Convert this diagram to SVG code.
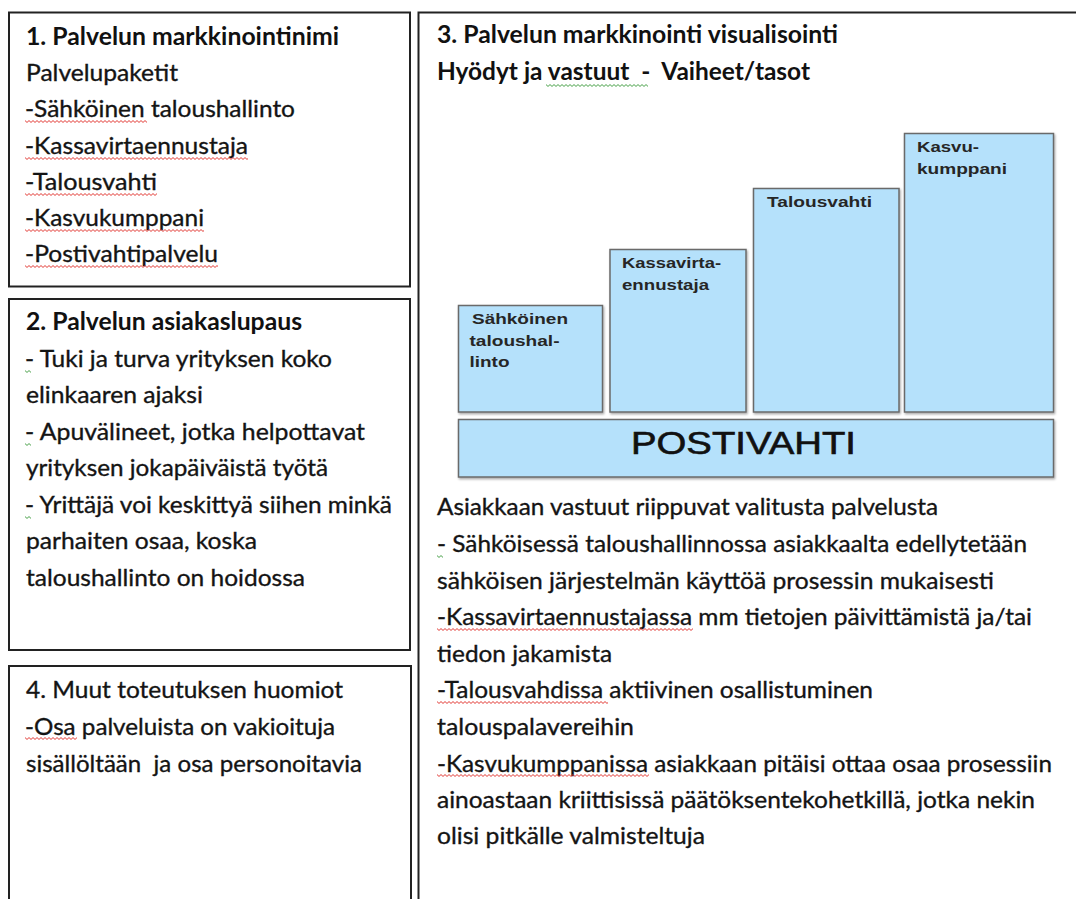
<svg xmlns="http://www.w3.org/2000/svg" width="1076" height="899" viewBox="0 0 1076 899">
  <defs>
    <style>
      .panel { fill: #ffffff; stroke: #222222; stroke-width: 2; }
      .t { font-family: Lato, "Open Sans", "Liberation Sans", sans-serif; font-size: 24px; fill: #141414; stroke: #141414; stroke-width: 0.35; }
      .tb { font-family: Lato, "Open Sans", "Liberation Sans", sans-serif; font-size: 24px; font-weight: 700; fill: #111111; }
      .pre { white-space: pre; }
      .bar { fill: #b5e1fb; stroke: #6a6a6a; stroke-width: 1.5; filter: url(#shade); }
      .lbl { font-family: "Liberation Sans", Arial, sans-serif; font-size: 15.5px; font-weight: 700; fill: #262626; }
      .big { font-family: "Liberation Sans", Arial, sans-serif; font-size: 31px; fill: #111111; stroke: #111111; stroke-width: 0.6; }
    </style>
    <filter id="shade" x="-5%" y="-5%" width="112%" height="115%">
      <feDropShadow dx="1" dy="1.5" stdDeviation="0.8" flood-color="#000" flood-opacity="0.35"/>
    </filter>
    <!-- spell-check squiggles -->
    <pattern id="wr" patternUnits="userSpaceOnUse" width="4" height="3">
      <path d="M-1,1.5 L0,0.5 L2,2.5 L4,0.5 L5,1.5" fill="none" stroke="#e0302a" stroke-width="1"/>
    </pattern>
    <pattern id="wg" patternUnits="userSpaceOnUse" width="4" height="3">
      <path d="M-1,1.5 L0,0.5 L2,2.5 L4,0.5 L5,1.5" fill="none" stroke="#3c9a3c" stroke-width="1"/>
    </pattern>
  </defs>

  <rect width="1076" height="899" fill="#ffffff"/>

  <!-- Panel 1: service name -->
  <g id="panel-name">
    <rect class="panel" x="9" y="12.5" width="401" height="274"/>
    <text class="tb" x="26" y="45" textLength="313" lengthAdjust="spacingAndGlyphs">1. Palvelun markkinointinimi</text>
    <text class="t" x="26" y="81" textLength="152" lengthAdjust="spacingAndGlyphs">Palvelupaketit</text>
    <text class="t" x="25" y="117" textLength="270" lengthAdjust="spacingAndGlyphs">-Sähköinen taloushallinto</text>
    <text class="t" x="25" y="154" textLength="223" lengthAdjust="spacingAndGlyphs">-Kassavirtaennustaja</text>
    <text class="t" x="25" y="190" textLength="132" lengthAdjust="spacingAndGlyphs">-Talousvahti</text>
    <text class="t" x="25" y="226" textLength="179" lengthAdjust="spacingAndGlyphs">-Kasvukumppani</text>
    <text class="t" x="25" y="262" textLength="193" lengthAdjust="spacingAndGlyphs">-Postivahtipalvelu</text>
    <rect transform="translate(25,120)" width="122" height="3" fill="url(#wr)"/>
    <rect transform="translate(25,157)" width="223" height="3" fill="url(#wr)"/>
    <rect transform="translate(25,193)" width="132" height="3" fill="url(#wr)"/>
    <rect transform="translate(25,229)" width="179" height="3" fill="url(#wr)"/>
    <rect transform="translate(25,265)" width="193" height="3" fill="url(#wr)"/>
  </g>

  <!-- Panel 2: customer promise -->
  <g id="panel-promise">
    <rect class="panel" x="9" y="299" width="401" height="351"/>
    <text class="tb" x="26" y="330" textLength="276" lengthAdjust="spacingAndGlyphs">2. Palvelun asiakaslupaus</text>
    <text class="t" x="25" y="366.5" textLength="307" lengthAdjust="spacingAndGlyphs">- Tuki ja turva yrityksen koko</text>
    <text class="t" x="26" y="403" textLength="177" lengthAdjust="spacingAndGlyphs">elinkaaren ajaksi</text>
    <text class="t" x="25" y="439.5" textLength="340" lengthAdjust="spacingAndGlyphs">- Apuvälineet, jotka helpottavat</text>
    <text class="t" x="26" y="476" textLength="302" lengthAdjust="spacingAndGlyphs">yrityksen jokapäiväistä työtä</text>
    <text class="t" x="25" y="512.5" textLength="367" lengthAdjust="spacingAndGlyphs">- Yrittäjä voi keskittyä siihen minkä</text>
    <text class="t" x="26" y="549" textLength="231" lengthAdjust="spacingAndGlyphs">parhaiten osaa, koska</text>
    <text class="t" x="26" y="585.5" textLength="279" lengthAdjust="spacingAndGlyphs">taloushallinto on hoidossa</text>
    <rect transform="translate(25,370)" width="6" height="3" fill="url(#wg)"/>
    <rect transform="translate(25,443)" width="6" height="3" fill="url(#wg)"/>
    <rect transform="translate(25,516)" width="6" height="3" fill="url(#wg)"/>
  </g>

  <!-- Panel 4: other notes -->
  <g id="panel-notes">
    <rect class="panel" x="9" y="666" width="402" height="245"/>
    <text class="t" x="26" y="698" textLength="317" lengthAdjust="spacingAndGlyphs">4. Muut toteutuksen huomiot</text>
    <text class="t" x="25" y="735" textLength="310" lengthAdjust="spacingAndGlyphs">-Osa palveluista on vakioituja</text>
    <text class="t pre" x="26" y="772" textLength="336" lengthAdjust="spacingAndGlyphs">sisällöltään  ja osa personoitavia</text>
    <rect transform="translate(25,737)" width="52" height="3" fill="url(#wr)"/>
  </g>

  <!-- Panel 3: visualisation -->
  <g id="panel-visual">
    <rect class="panel" x="418.5" y="12.5" width="670" height="900"/>
    <text class="tb" x="437" y="43" textLength="401" lengthAdjust="spacingAndGlyphs">3. Palvelun markkinointi visualisointi</text>
    <text class="tb pre" x="437" y="80" textLength="373" lengthAdjust="spacingAndGlyphs">Hyödyt ja vastuut  -  Vaiheet/tasot</text>
    <rect transform="translate(546,84)" width="102" height="3" fill="url(#wg)"/>
  </g>

  <!-- Service levels -->
  <g id="level-sahkoinen">
    <rect class="bar" x="458.5" y="305.5" width="144" height="106.5"/>
    <text class="lbl" x="472" y="324" textLength="96" lengthAdjust="spacingAndGlyphs">Sähköinen</text>
    <text class="lbl" x="469.5" y="346" textLength="90" lengthAdjust="spacingAndGlyphs">taloushal-</text>
    <text class="lbl" x="469.5" y="367" textLength="40" lengthAdjust="spacingAndGlyphs">linto</text>
  </g>
  <g id="level-kassavirta">
    <rect class="bar" x="610" y="249.5" width="136" height="162.5"/>
    <text class="lbl" x="622" y="268" textLength="99" lengthAdjust="spacingAndGlyphs">Kassavirta-</text>
    <text class="lbl" x="622" y="290" textLength="87" lengthAdjust="spacingAndGlyphs">ennustaja</text>
  </g>
  <g id="level-talousvahti">
    <rect class="bar" x="753.5" y="188.5" width="145.5" height="223.5"/>
    <text class="lbl" x="767" y="207" textLength="105" lengthAdjust="spacingAndGlyphs">Talousvahti</text>
  </g>
  <g id="level-kasvukumppani">
    <rect class="bar" x="904.5" y="133.5" width="149" height="278.5"/>
    <text class="lbl" x="917" y="152" textLength="62" lengthAdjust="spacingAndGlyphs">Kasvu-</text>
    <text class="lbl" x="917" y="174" textLength="90" lengthAdjust="spacingAndGlyphs">kumppani</text>
  </g>
  <g id="level-postivahti">
    <rect class="bar" x="458.5" y="419.5" width="595" height="57.5"/>
    <text class="big" x="631" y="454" textLength="225" lengthAdjust="spacingAndGlyphs">POSTIVAHTI</text>
  </g>

  <!-- Customer responsibilities -->
  <g id="responsibilities">
    <text class="t" x="437" y="515" textLength="501" lengthAdjust="spacingAndGlyphs">Asiakkaan vastuut riippuvat valitusta palvelusta</text>
    <text class="t" x="437" y="552" textLength="590" lengthAdjust="spacingAndGlyphs">- Sähköisessä taloushallinnossa asiakkaalta edellytetään</text>
    <text class="t" x="437" y="588.5" textLength="557" lengthAdjust="spacingAndGlyphs">sähköisen järjestelmän käyttöä prosessin mukaisesti</text>
    <text class="t" x="437" y="625" textLength="595" lengthAdjust="spacingAndGlyphs">-Kassavirtaennustajassa mm tietojen päivittämistä ja/tai</text>
    <text class="t" x="437" y="661.5" textLength="175" lengthAdjust="spacingAndGlyphs">tiedon jakamista</text>
    <text class="t" x="437" y="698" textLength="436" lengthAdjust="spacingAndGlyphs">-Talousvahdissa aktiivinen osallistuminen</text>
    <text class="t" x="437" y="734.5" textLength="197" lengthAdjust="spacingAndGlyphs">talouspalavereihin</text>
    <text class="t" x="437" y="771.5" textLength="615" lengthAdjust="spacingAndGlyphs">-Kasvukumppanissa asiakkaan pitäisi ottaa osaa prosessiin</text>
    <text class="t" x="437" y="808" textLength="598" lengthAdjust="spacingAndGlyphs">ainoastaan kriittisissä päätöksentekohetkillä, jotka nekin</text>
    <text class="t" x="437" y="844" textLength="268" lengthAdjust="spacingAndGlyphs">olisi pitkälle valmisteltuja</text>
    <rect transform="translate(437,555)" width="6" height="3" fill="url(#wg)"/>
    <rect transform="translate(437,628)" width="256" height="3" fill="url(#wr)"/>
    <rect transform="translate(437,701)" width="171" height="3" fill="url(#wr)"/>
    <rect transform="translate(437,774)" width="212" height="3" fill="url(#wr)"/>
  </g>
</svg>
